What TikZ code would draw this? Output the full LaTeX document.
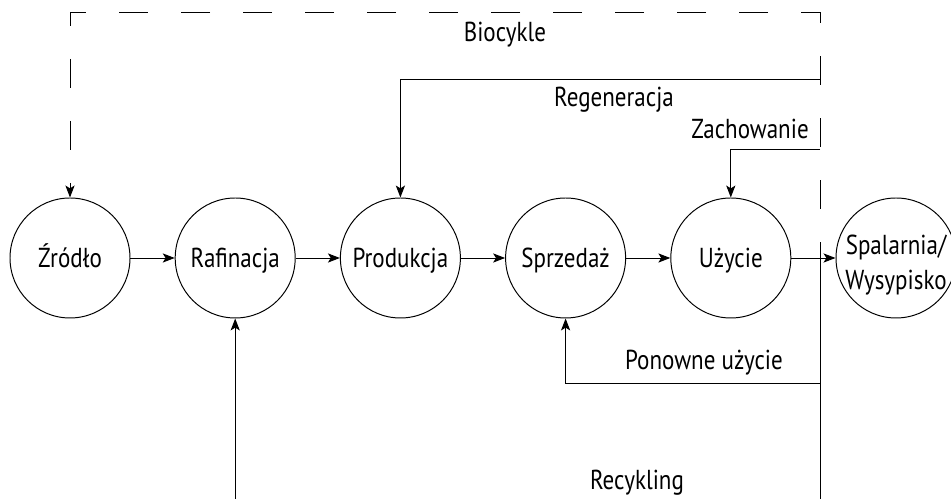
\documentclass[tikz,border=0pt]{standalone}
\usepackage{fontspec}
\setmainfont{PT Sans}[FakeStretch=0.84]
\usetikzlibrary{arrows.meta}

\tikzset{
  etap/.style={draw, circle, minimum size=3cm, inner sep=0pt, text height=13.5pt, text depth=0pt},
  strz/.style={-{Stealth[length=8.5pt,width=6.5pt,inset=2pt]}},
  opis/.style={anchor=base},
}

\begin{document}
\begin{tikzpicture}[line width=0.7pt, font=\fontsize{19.5}{25}\selectfont]
    \useasboundingbox (0,0) rectangle (23.775,12.475);

    % Stages of the cycle
    \node[etap] (zrodlo) at (1.75,6.025) {Źródło};
    \node[etap] (rafinacja) at (5.88,6.025) {Rafinacja};
    \node[etap] (produkcja) at (10.01,6.025) {Produkcja};
    \node[etap] (sprzedaz) at (14.14,6.025) {Sprzedaż};
    \node[etap] (uzycie) at (18.27,6.025) {Użycie};
    \node[etap] (spalarnia) at (22.4,6.025) {};
    \node[align=center] (spalarniaTxt) at (22.4,5.85) {Spalarnia/\\Wysypisko};

    % Main flow
    \draw[strz] (zrodlo) -- (rafinacja);
    \draw[strz] (rafinacja) -- (produkcja);
    \draw[strz] (produkcja) -- (sprzedaz);
    \draw[strz] (sprzedaz) -- (uzycie);
    \draw[strz] (uzycie) -- (spalarnia);

    % Return line on the right
    \coordinate (bioStart) at (20.5,6.425);
    \coordinate (rog) at (20.5,12.15);
    \coordinate (regen) at (20.5,10.475);
    \coordinate (zach) at (20.5,8.725);
    \coordinate (ponow) at (20.5,2.9);
    \coordinate (recP) at (20.5,0);

    % Biocycle (dashed)
    \draw[strz, dash pattern=on 0.725cm off 0.825cm, dash phase=0.725cm]
        (bioStart) -- (rog) -| (zrodlo.north);

    % Loops back into the chain
    \draw[strz] (regen) -| (produkcja.north);
    \draw[strz] (zach) -| (uzycie.north);
    \draw[strz] (ponow) -| (sprzedaz.south);
    \draw (recP) -- (bioStart);
    \draw[strz] (rafinacja.south |- recP) -- (rafinacja.south);

    % Labels
    \node[opis] (biocykle) at (12.625,11.425) {Biocykle};
    \node[opis] (regeneracja) at (15.35,9.8) {Regeneracja};
    \node[opis] (zachowanie) at (18.75,9.0) {Zachowanie};
    \node[opis] (ponowne) at (17.6,3.225) {Ponowne użycie};
    \node[opis] (recykling) at (15.925,0.225) {Recykling};
\end{tikzpicture}
\end{document}
